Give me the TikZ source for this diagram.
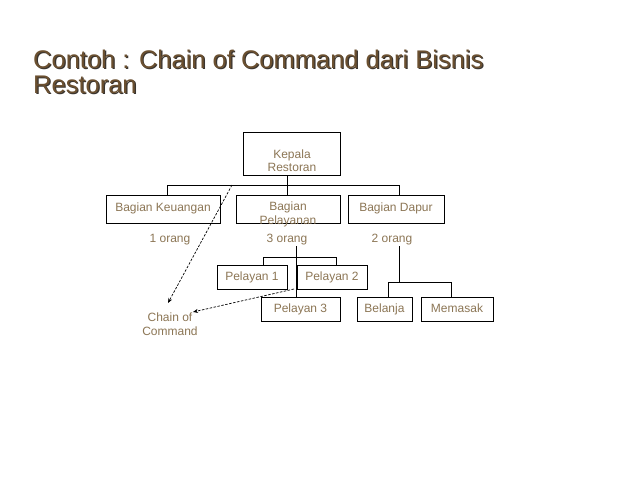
\documentclass[tikz,border=0pt]{standalone}
\usepackage{fontspec}
\setmainfont{Liberation Sans}
\usetikzlibrary{arrows.meta}
\definecolor{titlec}{HTML}{6B5030}
\definecolor{shadowc}{HTML}{3A3530}
\definecolor{txtc}{HTML}{8C7655}
\begin{document}
\begin{tikzpicture}[x=1pt,y=-1pt,
  box/.style={draw=black,line width=0.9pt,inner sep=0pt,text=txtc,font=\fontsize{12}{14}\selectfont,text height=8.6pt,text depth=2.4pt},
  blbl/.style={inner sep=0pt,text=txtc,font=\fontsize{12}{14}\selectfont,anchor=base},
  ttl/.style={inner sep=0pt,anchor=base west,font=\fontsize{25.5}{27}\selectfont},
  conn/.style={line width=0.9pt},
  chain/.style={dashed,dash pattern=on 2.5pt off 1.5pt,line width=0.7pt,-{Stealth[length=5pt,width=4pt]}}]
\useasboundingbox (0,0) rectangle (638,479);
\fill[white] (0,0) rectangle (638,479);
% title
\node[ttl,text=shadowc] (t1s) at (34.2,69.2) {Contoh : Chain of Command dari Bisnis};
\node[ttl,text=titlec] (t1) at (33,68) {Contoh : Chain of Command dari Bisnis};
\node[ttl,text=shadowc] (t2s) at (34.2,94.2) {Restoran};
\node[ttl,text=titlec] (t2) at (33,93) {Restoran};
% boxes
\node[box,minimum width=97pt,minimum height=43pt] (kep) at (292,153.5) {};
\node[blbl] (kept1) at (292,158) {Kepala};
\node[blbl] (kept2) at (292,171) {Restoran};
\node[box,minimum width=114pt,minimum height=28pt] (keu) at (163,209) {};
\node[blbl] (keut) at (163,211) {Bagian Keuangan};
\node[box,minimum width=104pt,minimum height=28pt] (pel) at (288,209) {};
\node[blbl] (pelt1) at (288,210) {Bagian};
\node[blbl] (pelt2) at (288,224) {Pelayanan};
\node[box,minimum width=96pt,minimum height=28pt] (dap) at (396,209) {};
\node[blbl] (dapt) at (396,211) {Bagian Dapur};
\node[blbl] (o1) at (170,242) {1 orang};
\node[blbl] (o3) at (287,242) {3 orang};
\node[blbl] (o2) at (392,242) {2 orang};
\node[box,minimum width=70pt,minimum height=24pt] (p1) at (252,277) {Pelayan 1};
\node[box,minimum width=70pt,minimum height=24pt] (p2) at (332,277) {Pelayan 2};
\node[box,minimum width=79pt,minimum height=24pt] (p3) at (300.5,309.5) {Pelayan 3};
\node[box,minimum width=55pt,minimum height=24pt] (bel) at (384.5,309.5) {Belanja};
\node[box,minimum width=72pt,minimum height=24pt] (mem) at (457,309.5) {Memasak};
\node[blbl] (coc1) at (170,321) {Chain of};
\node[blbl] (coc2) at (170,335) {Command};
% connectors
\coordinate (bk) at (287,185);
\coordinate (bl) at (167,185);
\coordinate (br) at (399,185);
\draw[conn] (kep.south -| bk) -- (bk);
\draw[conn] (bl |- keu.north) -- (bl) -- (br) -- (br |- dap.north);
\draw[conn] (bk) -- (bk |- pel.north);
\coordinate (ps) at (296,246);
\coordinate (pj) at (296,257);
\coordinate (pl) at (263,257);
\coordinate (pr) at (336,257);
\draw[conn] (ps) -- (pj |- p3.north);
\draw[conn] (pl |- p1.north) -- (pl) -- (pr) -- (pr |- p2.north);
\coordinate (ds) at (399,246);
\coordinate (dj) at (399,282);
\coordinate (dl) at (388,282);
\coordinate (dr) at (451,282);
\draw[conn] (ds) -- (dj);
\draw[conn] (dl |- bel.north) -- (dl) -- (dr) -- (dr |- mem.north);
% chain of command arrows
\coordinate (c1) at (232,185);
\coordinate (c2) at (294,289);
\draw[chain] (c1) -- (168,303);
\draw[chain] (c2) -- (193,312);
\end{tikzpicture}
\end{document}
